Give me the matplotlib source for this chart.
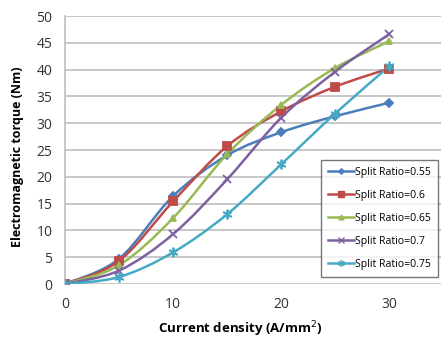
import numpy as np
import matplotlib.pyplot as plt
from matplotlib.path import Path
from matplotlib.patches import PathPatch

plt.rcParams['font.family'] = ['Open Sans', 'DejaVu Sans']

current = [0, 5, 10, 15, 20, 25, 30]
labels = ["Split Ratio=0.55", "Split Ratio=0.6", "Split Ratio=0.65",
          "Split Ratio=0.7", "Split Ratio=0.75"]
torque_055 = [0, 4.7, 16.4, 24.0, 28.3, 31.3, 33.8]
torque_060 = [0, 4.3, 15.4, 25.7, 32.2, 36.8, 40.2]
torque_065 = [0, 3.5, 12.3, 24.2, 33.4, 40.3, 45.3]
torque_070 = [0, 2.5, 9.3, 19.5, 31.0, 39.6, 46.6]
torque_075 = [0, 1.3, 5.9, 13.0, 22.3, 31.8, 40.6]

series = [torque_055, torque_060, torque_065, torque_070, torque_075]
colors = ["#4A7EBB", "#BE4B48", "#98B954", "#7D60A0", "#46AAC5"]
markers = ["D", "s", "^", "x", (6, 2, 0)]
msizes = [4, 6, 5, 6, 7]


def smooth_path(x, y):
    # Excel-style smoothed line: cubic Bezier segments between points
    x = np.asarray(x, float)
    y = np.asarray(y, float)
    n = len(x)
    verts = [(x[0], y[0])]
    codes = [Path.MOVETO]
    for i in range(n - 1):
        xp, yp = (x[i - 1], y[i - 1]) if i > 0 else (x[i], y[i])
        xn, yn = (x[i + 2], y[i + 2]) if i + 2 < n else (x[i + 1], y[i + 1])
        c1 = (x[i] + (x[i + 1] - xp) / 6, y[i] + (y[i + 1] - yp) / 6)
        c2 = (x[i + 1] - (xn - x[i]) / 6, y[i + 1] - (yn - y[i]) / 6)
        verts += [c1, c2, (x[i + 1], y[i + 1])]
        codes += [Path.CURVE4] * 3
    return Path(verts, codes)


fig = plt.figure(figsize=(4.41, 3.40), dpi=100)
ax = fig.add_axes([65 / 441, 1 - 284 / 340, 1 - 65 / 441, (284 - 16) / 340])

for vals, lab, c, m, ms in zip(series, labels, colors, markers, msizes):
    ax.add_patch(PathPatch(smooth_path(current, vals), facecolor="none",
                           edgecolor=c, lw=1.8, zorder=3))
    ax.plot(current, vals, ls="none", marker=m, ms=ms, color=c, mec=c,
            mew=1.3, zorder=4)
    ax.plot([], [], color=c, lw=1.8, marker=m, ms=ms * 0.7, mew=1.0,
            label=lab)

ax.set_xlim(0, 34.8)
ax.set_ylim(0, 50)
ax.set_xticks([0, 10, 20, 30])
ax.set_yticks(np.arange(0, 51, 5))
ax.grid(axis="y", color="#BEBEBE", lw=1.2)
ax.set_axisbelow(True)
for s in ["top", "right", "bottom"]:
    ax.spines[s].set_visible(False)
ax.spines["left"].set_color("#BEBEBE")
ax.spines["left"].set_linewidth(1.2)
ax.tick_params(length=0, labelsize=10, colors="#333333", pad=9)

fig.text(240 / 441, 1 - 329 / 340, "Current density (A/mm$^2$)",
         fontsize=9.5, fontweight="bold", ha="center", va="center")
fig.text(18 / 441, 1 - 157 / 340, "Electromagnetic torque (Nm)",
         fontsize=9, fontweight="bold", ha="center", va="center",
         rotation=90)

leg = ax.legend(loc="lower right", bbox_to_anchor=(438 / 441, 1 - 277 / 340),
                bbox_transform=fig.transFigure, fontsize=7.6, frameon=True,
                fancybox=False, edgecolor="#555555", labelspacing=1.15,
                handlelength=2.5, handletextpad=0.1, borderpad=0.65,
                borderaxespad=0)
leg.get_frame().set_linewidth(1.0)

plt.savefig("out.png", dpi=100)
plt.close()
